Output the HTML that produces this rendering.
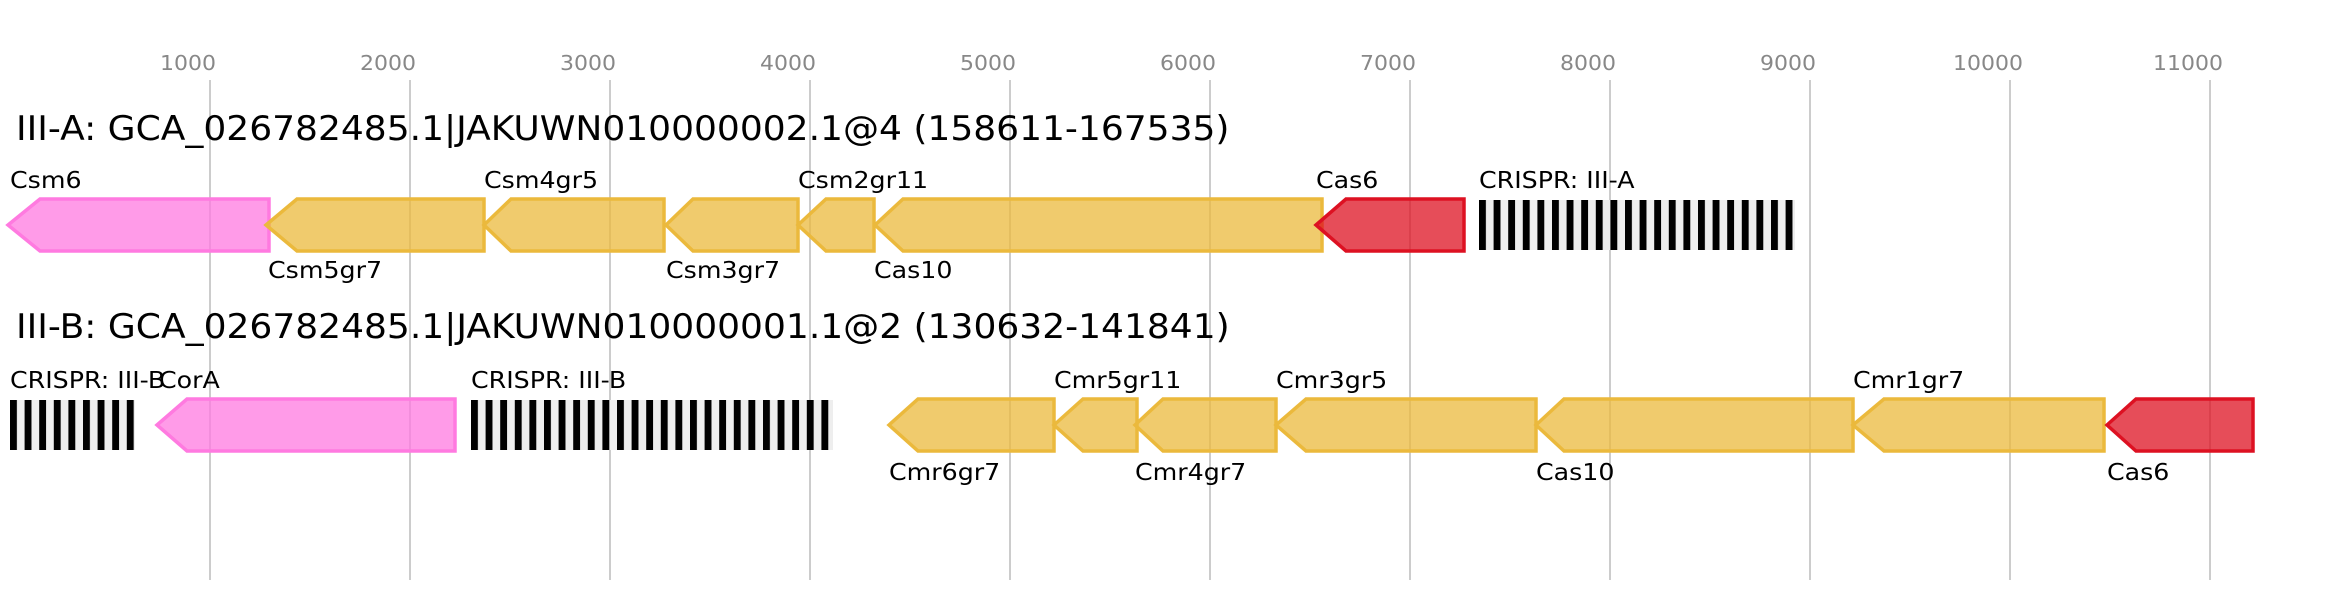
<!DOCTYPE html>
<html><head><meta charset="utf-8"><style>
html,body{margin:0;padding:0;background:#fff;width:2342px;height:600px;overflow:hidden}
svg{display:block}
text{font-family:"DejaVu Sans","Liberation Sans",sans-serif}
</style></head><body>
<svg width="2342" height="600" viewBox="0 0 2342 600" xmlns="http://www.w3.org/2000/svg">
<g stroke="#bbbbbb" stroke-width="1.5">
<line x1="210" y1="80" x2="210" y2="580"/><line x1="410" y1="80" x2="410" y2="580"/>
<line x1="610" y1="80" x2="610" y2="580"/><line x1="810" y1="80" x2="810" y2="580"/>
<line x1="1010" y1="80" x2="1010" y2="580"/><line x1="1210" y1="80" x2="1210" y2="580"/>
<line x1="1410" y1="80" x2="1410" y2="580"/><line x1="1610" y1="80" x2="1610" y2="580"/>
<line x1="1810" y1="80" x2="1810" y2="580"/><line x1="2010" y1="80" x2="2010" y2="580"/>
<line x1="2210" y1="80" x2="2210" y2="580"/>
</g>
<g font-size="20" fill="#888" text-anchor="middle">
<g transform="translate(188 70) scale(1.1 1)"><text>1000</text></g>
<g transform="translate(388 70) scale(1.1 1)"><text>2000</text></g>
<g transform="translate(588 70) scale(1.1 1)"><text>3000</text></g>
<g transform="translate(788 70) scale(1.1 1)"><text>4000</text></g>
<g transform="translate(988 70) scale(1.1 1)"><text>5000</text></g>
<g transform="translate(1188 70) scale(1.1 1)"><text>6000</text></g>
<g transform="translate(1388 70) scale(1.1 1)"><text>7000</text></g>
<g transform="translate(1588 70) scale(1.1 1)"><text>8000</text></g>
<g transform="translate(1788 70) scale(1.1 1)"><text>9000</text></g>
<g transform="translate(1988 70) scale(1.1 1)"><text>10000</text></g>
<g transform="translate(2188 70) scale(1.1 1)"><text>11000</text></g>
</g>
<g transform="translate(16 140) scale(1.06 1)"><text font-size="34" fill="#000">III-A: GCA_026782485.1|JAKUWN010000002.1@4 (158611-167535)</text></g>
<g transform="translate(16 338) scale(1.06 1)"><text font-size="34" fill="#000">III-B: GCA_026782485.1|JAKUWN010000001.1@2 (130632-141841)</text></g>

<g stroke-width="3.5" fill-opacity="0.75">
<polygon points="8,225 40,199 269,199 269,251 40,251" fill="#ff7ae0" stroke="#ff7ae0"/>
<polygon points="266,225 297,199 484,199 484,251 297,251" fill="#ebb93c" stroke="#ebb93c"/>
<polygon points="484,225 511,199 664,199 664,251 511,251" fill="#ebb93c" stroke="#ebb93c"/>
<polygon points="666,225 693,199 798,199 798,251 693,251" fill="#ebb93c" stroke="#ebb93c"/>
<polygon points="798,225 826,199 874,199 874,251 826,251" fill="#ebb93c" stroke="#ebb93c"/>
<polygon points="875,225 903,199 1322,199 1322,251 903,251" fill="#ebb93c" stroke="#ebb93c"/>
<polygon points="1316,225 1346,199 1464,199 1464,251 1346,251" fill="#dd1122" stroke="#dd1122"/>
<polygon points="157,425 187,399 455,399 455,451 187,451" fill="#ff7ae0" stroke="#ff7ae0"/>
<polygon points="889,425 918,399 1054,399 1054,451 918,451" fill="#ebb93c" stroke="#ebb93c"/>
<polygon points="1054,425 1083,399 1137,399 1137,451 1083,451" fill="#ebb93c" stroke="#ebb93c"/>
<polygon points="1135,425 1163,399 1276,399 1276,451 1163,451" fill="#ebb93c" stroke="#ebb93c"/>
<polygon points="1276,425 1306,399 1536,399 1536,451 1306,451" fill="#ebb93c" stroke="#ebb93c"/>
<polygon points="1536,425 1564,399 1853,399 1853,451 1564,451" fill="#ebb93c" stroke="#ebb93c"/>
<polygon points="1853,425 1884,399 2104,399 2104,451 1884,451" fill="#ebb93c" stroke="#ebb93c"/>
<polygon points="2107,425 2136,399 2253,399 2253,451 2136,451" fill="#dd1122" stroke="#dd1122"/>
</g>

<defs>
<pattern id="barsA" x="1479" y="0" width="14.6" height="10" patternUnits="userSpaceOnUse">
<rect x="0" y="0" width="7" height="10" fill="#000"/><rect x="7" y="0" width="7.6" height="10" fill="#eee"/>
</pattern>
<pattern id="barsB1" x="10" y="0" width="14.6" height="10" patternUnits="userSpaceOnUse">
<rect x="0" y="0" width="7" height="10" fill="#000"/><rect x="7" y="0" width="7.6" height="10" fill="#eee"/>
</pattern>
<pattern id="barsB2" x="471" y="0" width="14.6" height="10" patternUnits="userSpaceOnUse">
<rect x="0" y="0" width="7" height="10" fill="#000"/><rect x="7" y="0" width="7.6" height="10" fill="#eee"/>
</pattern>
</defs>
<rect x="1479" y="200" width="316" height="50" fill="url(#barsA)"/>
<rect x="10" y="400" width="125" height="50" fill="url(#barsB1)"/>
<rect x="471" y="400" width="362" height="50" fill="url(#barsB2)"/>

<g font-size="23" fill="#000">
<g transform="translate(10 188) scale(1.1 1)"><text>Csm6</text></g>
<g transform="translate(268 278) scale(1.1 1)"><text>Csm5gr7</text></g>
<g transform="translate(484 188) scale(1.1 1)"><text>Csm4gr5</text></g>
<g transform="translate(666 278) scale(1.1 1)"><text>Csm3gr7</text></g>
<g transform="translate(798 188) scale(1.1 1)"><text>Csm2gr11</text></g>
<g transform="translate(874 278) scale(1.1 1)"><text>Cas10</text></g>
<g transform="translate(1316 188) scale(1.1 1)"><text>Cas6</text></g>
<g transform="translate(1479 188) scale(1.1 1)"><text>CRISPR: III-A</text></g>
<g transform="translate(10 388) scale(1.1 1)"><text>CRISPR: III-B</text></g>
<g transform="translate(159 388) scale(1.1 1)"><text>CorA</text></g>
<g transform="translate(471 388) scale(1.1 1)"><text>CRISPR: III-B</text></g>
<g transform="translate(889 480) scale(1.1 1)"><text>Cmr6gr7</text></g>
<g transform="translate(1054 388) scale(1.1 1)"><text>Cmr5gr11</text></g>
<g transform="translate(1135 480) scale(1.1 1)"><text>Cmr4gr7</text></g>
<g transform="translate(1276 388) scale(1.1 1)"><text>Cmr3gr5</text></g>
<g transform="translate(1536 480) scale(1.1 1)"><text>Cas10</text></g>
<g transform="translate(1853 388) scale(1.1 1)"><text>Cmr1gr7</text></g>
<g transform="translate(2107 480) scale(1.1 1)"><text>Cas6</text></g>
</g>
</svg>
</body></html>
